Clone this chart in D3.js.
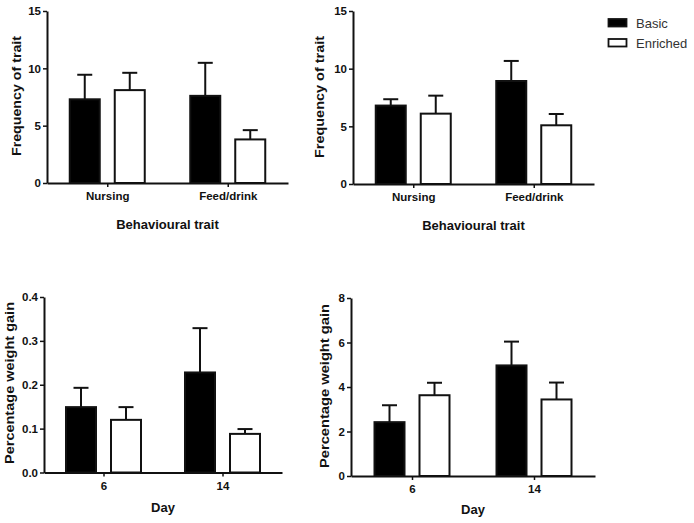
<!DOCTYPE html>
<html><head><meta charset="utf-8">
<script src="https://cdn.jsdelivr.net/npm/d3@7"></script>
<style>body{margin:0;background:#fff}svg text{font-family:"Liberation Sans",Arial,Helvetica,sans-serif}</style>
</head><body><svg id="c" width="694" height="523"></svg>
<script>
// ---- data ----
const series = ["Basic", "Enriched"];
const traitCategories = ["Nursing", "Feed/drink"];
const dayCategories = ["6", "14"];
const freqTicks = [0, 5, 10, 15];
const gainTicksSmall = [0, 0.1, 0.2, 0.3, 0.4];
const gainTicksLarge = [0, 2, 4, 6, 8];

// top-left panel: frequency of trait
const freqA_basic = [7.3, 7.6];
const freqA_basicErr = [2.14, 2.88];
const freqA_enriched = [8.1, 3.8];
const freqA_enrichedErr = [1.51, 0.81];
// top-right panel: frequency of trait
const freqB_basic = [6.8, 8.93];
const freqB_basicErr = [0.55, 1.74];
const freqB_enriched = [6.1, 5.09];
const freqB_enrichedErr = [1.56, 0.98];
// bottom-left panel: percentage weight gain
const gainA_basic = [0.149, 0.228];
const gainA_basicErr = [0.044, 0.101];
const gainA_enriched = [0.12, 0.088];
const gainA_enrichedErr = [0.029, 0.011];
// bottom-right panel: percentage weight gain
const gainB_basic = [2.42, 4.97];
const gainB_basicErr = [0.76, 1.07];
const gainB_enriched = [3.63, 3.44];
const gainB_enrichedErr = [0.56, 0.76];

// ---- layout ----
const panels = [
  {x0:47, x1:288, yTop:11, yZero:183, cats:traitCategories, ticks:freqTicks, max:15, fmt:d3.format("d"),
   ylabel:"Frequency of trait", xlabel:"Behavioural trait", ylx:21, yly:96, ylLen:120, xtGap:46,
   vals:{Basic:freqA_basic, Enriched:freqA_enriched}, errs:{Basic:freqA_basicErr, Enriched:freqA_enrichedErr}},
  {x0:353, x1:594, yTop:11, yZero:184, cats:traitCategories, ticks:freqTicks, max:15, fmt:d3.format("d"),
   ylabel:"Frequency of trait", xlabel:"Behavioural trait", ylx:324, yly:97, ylLen:122, xtGap:46,
   vals:{Basic:freqB_basic, Enriched:freqB_enriched}, errs:{Basic:freqB_basicErr, Enriched:freqB_enrichedErr}},
  {x0:44, x1:282, yTop:297, yZero:472.5, cats:dayCategories, ticks:gainTicksSmall, max:0.4, fmt:d3.format(".1f"),
   ylabel:"Percentage weight gain", xlabel:"Day", ylx:14, yly:383, ylLen:162, xtGap:39,
   vals:{Basic:gainA_basic, Enriched:gainA_enriched}, errs:{Basic:gainA_basicErr, Enriched:gainA_enrichedErr}},
  {x0:351, x1:595, yTop:298, yZero:476, cats:dayCategories, ticks:gainTicksLarge, max:8, fmt:d3.format("d"),
   ylabel:"Percentage weight gain", xlabel:"Day", ylx:329, yly:386, ylLen:164, xtGap:38,
   vals:{Basic:gainB_basic, Enriched:gainB_enriched}, errs:{Basic:gainB_basicErr, Enriched:gainB_enrichedErr}}
];

const svg = d3.select("#c");
const ink = "#111";

panels.forEach(p => {
  const g = svg.append("g");
  const y = d3.scaleLinear().domain([0, p.max]).range([p.yZero, p.yTop]);
  const x = d3.scalePoint().domain(p.cats).range([p.x0, p.x1]).padding(0.5);
  const sub = d3.scaleBand().domain(series).range([-37.5, 37.5]).paddingInner(1/3);

  const rows = [];
  p.cats.forEach((c, i) => series.forEach(s => rows.push({c, s, v:p.vals[s][i], e:p.errs[s][i]})));

  // error bars (upper only)
  const eg = g.append("g").attr("stroke", ink).attr("stroke-width", 2);
  rows.forEach(r => {
    const cx = x(r.c) + sub(r.s) + sub.bandwidth()/2;
    eg.append("line").attr("x1", cx).attr("x2", cx).attr("y1", y(r.v)).attr("y2", y(r.v + r.e));
    eg.append("line").attr("x1", cx - 7.5).attr("x2", cx + 7.5).attr("y1", y(r.v + r.e)).attr("y2", y(r.v + r.e));
  });

  // bars
  g.append("g").selectAll("rect").data(rows).join("rect")
    .attr("x", d => x(d.c) + sub(d.s))
    .attr("y", d => y(d.v))
    .attr("width", sub.bandwidth())
    .attr("height", d => p.yZero - y(d.v))
    .attr("fill", d => d.s === "Basic" ? "#000" : "#fff")
    .attr("stroke", ink).attr("stroke-width", 2);

  // y axis
  const ya = g.append("g").attr("transform", `translate(${p.x0},0)`)
    .call(d3.axisLeft(y).tickValues(p.ticks).tickFormat(p.fmt).tickSize(4).tickPadding(2).tickSizeOuter(0));
  ya.select(".domain").attr("stroke", ink).attr("stroke-width", 2);
  ya.selectAll(".tick line").attr("stroke", ink).attr("stroke-width", 1.5);
  ya.selectAll(".tick text").attr("fill", ink).style("font-size", "11.5px").style("font-weight", "bold");

  // x axis
  const xa = g.append("g").attr("transform", `translate(0,${p.yZero})`)
    .call(d3.axisBottom(x).tickSize(4).tickPadding(5).tickSizeOuter(0));
  xa.select(".domain").attr("stroke", ink).attr("stroke-width", 2);
  xa.selectAll(".tick line").attr("stroke", ink).attr("stroke-width", 1.5);
  xa.selectAll(".tick text").attr("fill", ink).style("font-size", "11.5px").style("font-weight", "bold");

  // axis titles
  g.append("text").attr("x", (p.x0 + p.x1)/2).attr("y", p.yZero + p.xtGap)
    .attr("text-anchor", "middle").attr("fill", ink)
    .style("font-size", "13px").style("font-weight", "bold").text(p.xlabel);
  g.append("text").attr("transform", `translate(${p.ylx},${p.yly}) rotate(-90)`)
    .attr("text-anchor", "middle").attr("fill", ink)
    .attr("textLength", p.ylLen).attr("lengthAdjust", "spacingAndGlyphs")
    .style("font-size", "12.5px").style("font-weight", "bold").text(p.ylabel);
});

// legend
const lg = svg.append("g");
series.forEach((s, i) => {
  lg.append("rect").attr("x", 608.5).attr("y", 19 + i*20).attr("width", 18).attr("height", 7.5)
    .attr("fill", s === "Basic" ? "#000" : "#fff").attr("stroke", ink).attr("stroke-width", 1.8);
  lg.append("text").attr("x", 636).attr("y", 28 + i*19.5).attr("fill", "#333")
    .style("font-size", "13px").text(s);
});
</script></body></html>
